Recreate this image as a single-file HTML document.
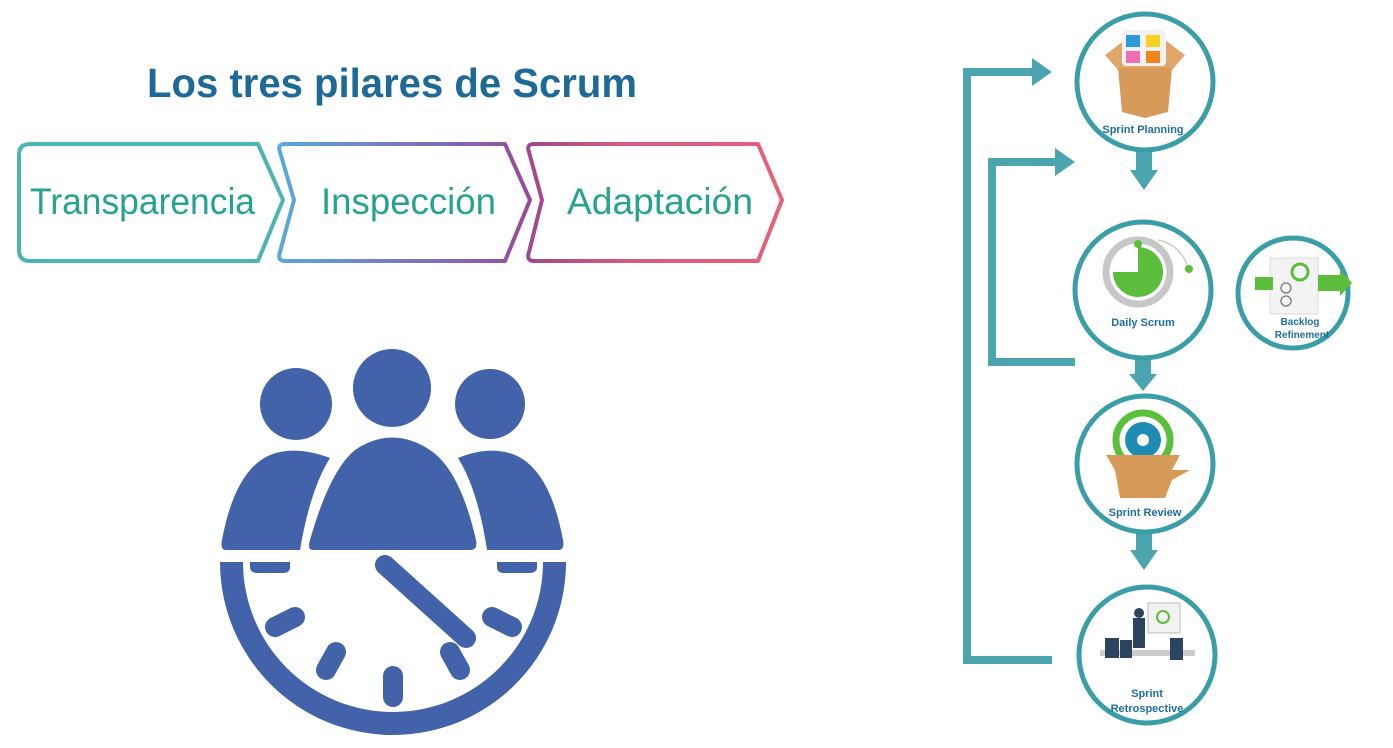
<!DOCTYPE html>
<html><head><meta charset="utf-8"><style>
html,body{margin:0;padding:0;background:#fff;}
svg{display:block;}
text{font-family:"Liberation Sans",sans-serif;}
</style></head><body>
<svg width="1393" height="748" viewBox="0 0 1393 748" xmlns="http://www.w3.org/2000/svg">
<defs>
<linearGradient id="g2" x1="0" x2="1"><stop offset="0" stop-color="#5aa8dc"/><stop offset="1" stop-color="#9a4a98"/></linearGradient>
<linearGradient id="g3" x1="0" x2="1"><stop offset="0" stop-color="#a04890"/><stop offset="0.4" stop-color="#d85a80"/><stop offset="1" stop-color="#e8607a"/></linearGradient>
</defs>
<text x="147" y="97" font-size="41" font-weight="bold" fill="#1d6a96" textLength="490" lengthAdjust="spacingAndGlyphs">Los tres pilares de Scrum</text>

<path d="M30,144 H258 L283,200 L258,261 H30 Q19,261 19,250 V155 Q19,144 30,144 Z" fill="none" stroke="#4db3b5" stroke-width="4" stroke-linejoin="round"/>
<path d="M285,144 H505 L530,200 L505,261 H285 Q277,261 280,252 L294,200 L280,152 Q277,144 285,144 Z" fill="none" stroke="url(#g2)" stroke-width="4" stroke-linejoin="round"/>
<path d="M534,144 H758 L782,200 L758,261 H534 Q526,261 529,252 L542,200 L529,152 Q526,144 534,144 Z" fill="none" stroke="url(#g3)" stroke-width="4" stroke-linejoin="round"/>
<text x="30" y="214" font-size="37" fill="#26a38f" textLength="225" lengthAdjust="spacingAndGlyphs">Transparencia</text>
<text x="321" y="214" font-size="37" fill="#26a38f" textLength="175" lengthAdjust="spacingAndGlyphs">Inspección</text>
<text x="567" y="214" font-size="37" fill="#26a38f" textLength="186" lengthAdjust="spacingAndGlyphs">Adaptación</text>

<g fill="#4263a9">
<circle cx="296" cy="404" r="36"/>
<circle cx="392" cy="388" r="39"/>
<circle cx="490" cy="404" r="35"/>
<path d="M226,550 Q220,550 222,540 Q235,470 270,455 Q295,445 330,458 Q310,490 300,550 Z"/>
<path d="M313,550 Q307,550 310,540 Q330,470 355,450 Q392,425 430,450 Q460,470 476,540 Q478,550 470,550 Z"/>
<path d="M487,550 Q478,490 458,458 Q490,445 515,455 Q550,470 563,540 Q565,550 558,550 Z"/>
<path d="M220,562 H243 A150,150 0 0 0 543,562 H566 A173,173 0 0 1 220,562 Z"/>
<path d="M250,562 H290 V567 Q290,573 283,573 H258 Q250,573 250,567 Z"/>
<path d="M497,562 H537 V567 Q537,573 529,573 H504 Q497,573 497,567 Z"/>
</g>
<g stroke="#4263a9" stroke-width="20" stroke-linecap="round" fill="none">
<line x1="385" y1="565" x2="466" y2="638"/>
<line x1="275" y1="627" x2="295" y2="617"/>
<line x1="492" y1="617" x2="512" y2="627"/>
<line x1="326" y1="670" x2="336" y2="652"/>
<line x1="450" y1="652" x2="460" y2="670"/>
<line x1="393" y1="676" x2="393" y2="697"/>
</g>

<g fill="none" stroke="#4aa5ae" stroke-width="8">
<polyline points="1052,660 967,660 967,72 1040,72"/>
<polyline points="1075,362 992,362 992,162 1062,162"/>
</g>
<g fill="#4aa5ae">
<polygon points="1032,58 1052,72 1032,86"/>
<polygon points="1055,148 1075,162 1055,176"/>
<rect x="1136" y="150" width="16" height="22"/><polygon points="1130,170 1158,170 1144,190"/>
<rect x="1135" y="358" width="16" height="18"/><polygon points="1129,374 1157,374 1143,391"/>
<rect x="1136" y="530" width="16" height="22"/><polygon points="1130,550 1158,550 1144,570"/>
</g>
<g fill="#fff" stroke="#3a9ea8" stroke-width="5">
<circle cx="1145" cy="82" r="68"/>
<circle cx="1143" cy="290" r="68"/>
<circle cx="1293" cy="293" r="55"/>
<circle cx="1145" cy="464" r="68"/>
<circle cx="1147" cy="655" r="68"/>
</g>
<polygon points="1105,55 1125,40 1165,40 1185,55 1172,70 1118,70" fill="#e0a868"/>
<rect x="1122" y="30" width="44" height="36" rx="4" fill="#f2f2f2"/>
<rect x="1126" y="35" width="14" height="12" fill="#2a9ad8"/><rect x="1146" y="35" width="14" height="12" fill="#f6d21c"/>
<rect x="1126" y="51" width="14" height="12" fill="#ee6fb2"/><rect x="1146" y="51" width="14" height="12" fill="#f0861e"/>
<polygon points="1118,68 1172,68 1168,112 1145,118 1122,112" fill="#d79a58"/>
<text x="1143" y="133" text-anchor="middle" font-size="11" font-weight="bold" fill="#1f6fa2">Sprint Planning</text>
<circle cx="1138" cy="272" r="32" fill="none" stroke="#c7c7c7" stroke-width="7"/>
<path d="M1138,272 V247 A25,25 0 1 1 1113,272 Z" fill="#5bbf3b"/>
<path d="M1158,240 A38,38 0 0 1 1188,268" fill="none" stroke="#ccc" stroke-width="1.5"/>
<circle cx="1138" cy="244" r="4" fill="#5bbf3b"/><circle cx="1189" cy="269" r="4" fill="#5bbf3b"/>
<text x="1143" y="326" text-anchor="middle" font-size="11" font-weight="bold" fill="#1f6fa2">Daily Scrum</text>
<rect x="1270" y="258" width="48" height="56" fill="#f3f3f3" stroke="#ddd"/>
<polygon points="1255,277 1273,277 1273,290 1255,290" fill="#5bbf3b"/><polygon points="1318,275 1340,275 1340,270 1352,283 1340,296 1340,291 1318,291" fill="#5bbf3b"/>
<circle cx="1300" cy="272" r="8" fill="none" stroke="#5bbf3b" stroke-width="3"/>
<circle cx="1286" cy="288" r="5" fill="none" stroke="#888" stroke-width="1.5"/><circle cx="1286" cy="301" r="5" fill="none" stroke="#888" stroke-width="1.5"/>
<text x="1300" y="325" text-anchor="middle" font-size="10" font-weight="bold" fill="#1f6fa2">Backlog</text>
<text x="1302" y="338" text-anchor="middle" font-size="10" font-weight="bold" fill="#1f6fa2">Refinement</text>
<circle cx="1143" cy="440" r="27" fill="none" stroke="#5bbf3b" stroke-width="7"/>
<circle cx="1143" cy="440" r="18" fill="#1f8cb5"/><circle cx="1143" cy="440" r="6" fill="#fff"/>
<polygon points="1106,455 1180,455 1172,470 1190,470 1172,480 1165,498 1120,498 1115,470" fill="#d79a58"/>
<text x="1145" y="516" text-anchor="middle" font-size="11" font-weight="bold" fill="#1f6fa2">Sprint Review</text>
<rect x="1148" y="603" width="32" height="30" fill="#f2f2f2" stroke="#bbb"/>
<circle cx="1163" cy="617" r="6" fill="none" stroke="#5bbf3b" stroke-width="2"/>
<rect x="1100" y="650" width="95" height="6" fill="#ccc"/>
<g fill="#2c4460"><rect x="1133" y="618" width="12" height="30"/><circle cx="1139" cy="613" r="5"/><rect x="1105" y="638" width="14" height="20"/><rect x="1120" y="640" width="12" height="18"/><rect x="1170" y="638" width="13" height="22"/></g>
<text x="1147" y="697" text-anchor="middle" font-size="11" font-weight="bold" fill="#1f6fa2">Sprint</text>
<text x="1147" y="712" text-anchor="middle" font-size="11" font-weight="bold" fill="#1f6fa2">Retrospective</text>
</svg>
</body></html>
